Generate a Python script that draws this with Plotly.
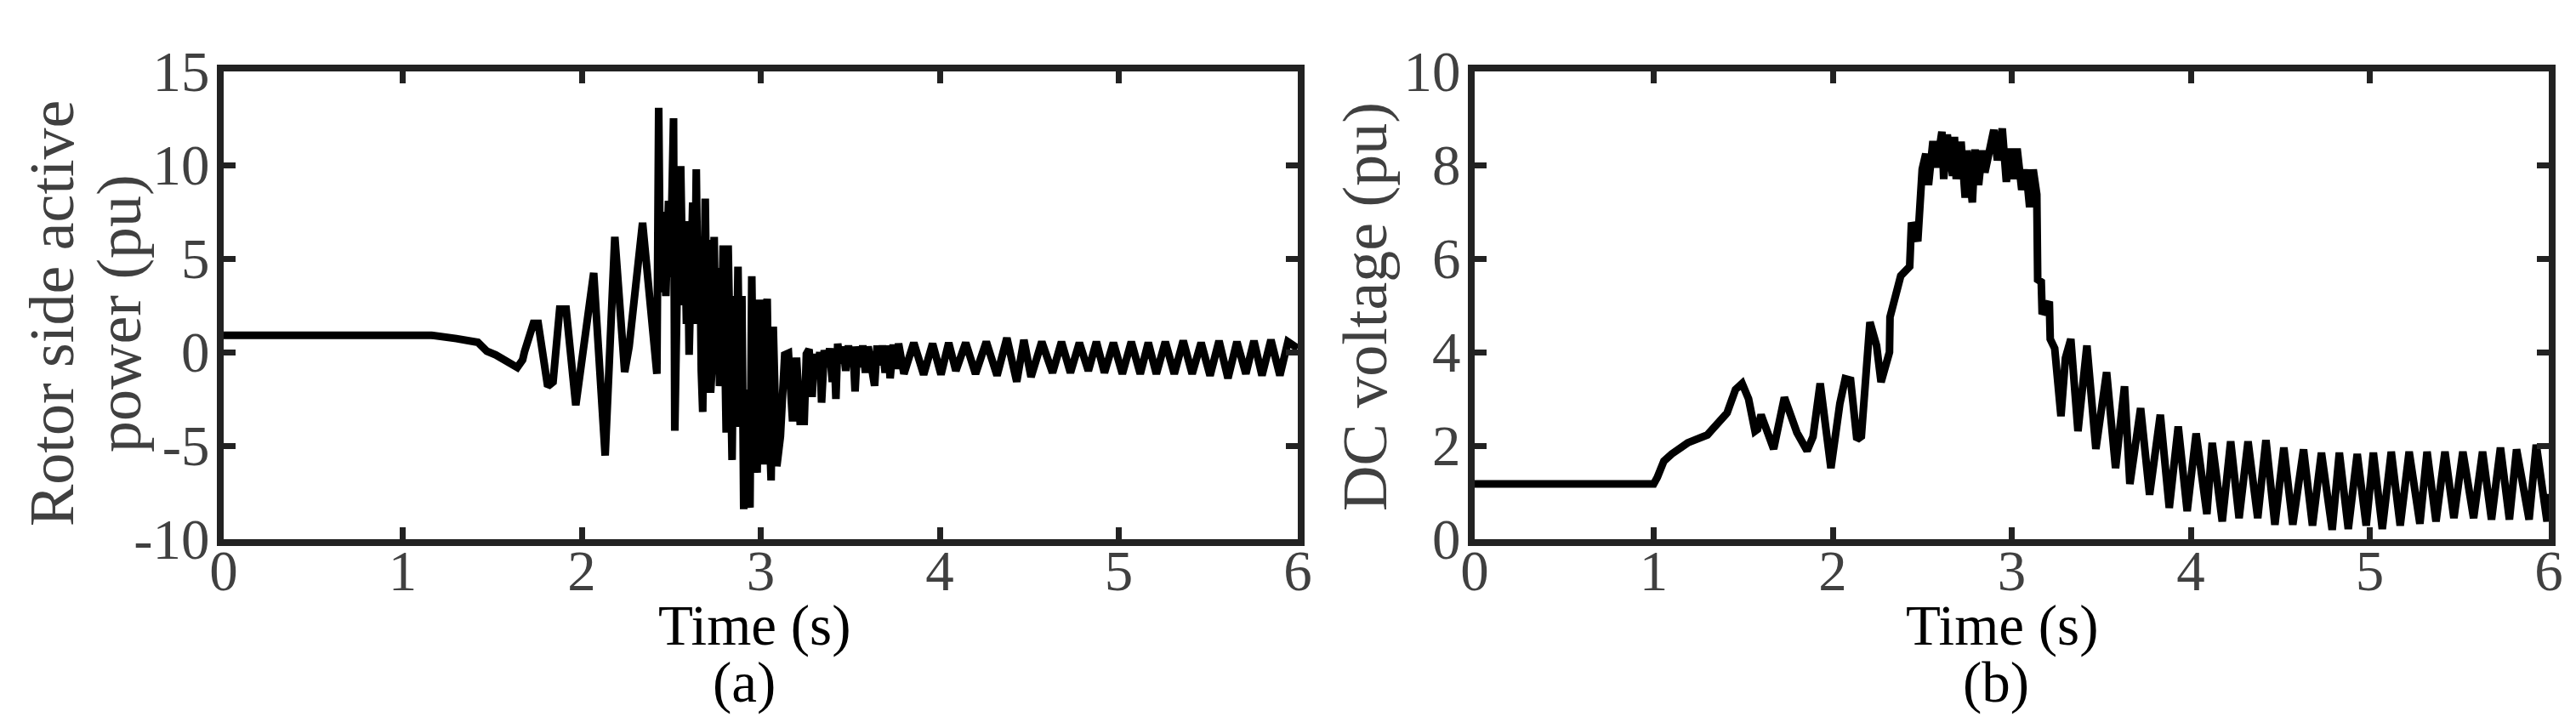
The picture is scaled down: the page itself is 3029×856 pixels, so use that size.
import plotly.graph_objects as go

# (a) rotor side active power, pu
t_rotor = [0.00, 1.16, 1.30, 1.42, 1.47, 1.52, 1.64, 1.67, 1.68, 1.73, 1.757, 1.81, 1.84, 1.877,
           1.913, 1.967, 2.067, 2.131, 2.185, 2.24, 2.265, 2.34, 2.42, 2.43, 2.44, 2.45, 2.455,
           2.46, 2.47, 2.478, 2.485, 2.495, 2.505, 2.513, 2.52, 2.53, 2.54, 2.545, 2.553, 2.565,
           2.575, 2.585, 2.592, 2.60, 2.61, 2.62, 2.63, 2.64, 2.65, 2.66, 2.668, 2.676, 2.69,
           2.70, 2.71, 2.72, 2.73, 2.74, 2.75, 2.76, 2.77, 2.78, 2.79, 2.807, 2.818, 2.84, 2.85,
           2.862, 2.873, 2.885, 2.895, 2.905, 2.915, 2.925, 2.94, 2.95, 2.96, 2.97, 2.98, 2.993,
           3.002, 3.014, 3.025, 3.036, 3.046, 3.058, 3.07, 3.08, 3.09, 3.11, 3.12, 3.134, 3.155,
           3.178, 3.20, 3.22, 3.243, 3.255, 3.27, 3.287, 3.30, 3.315, 3.33, 3.34, 3.355, 3.37,
           3.385, 3.40, 3.41, 3.42, 3.43, 3.445, 3.46, 3.475, 3.49, 3.505, 3.515, 3.527, 3.54,
           3.555, 3.57, 3.585, 3.60, 3.615, 3.636, 3.65, 3.665, 3.68, 3.695, 3.71, 3.723, 3.74,
           3.755, 3.77, 3.80, 3.855, 3.91, 3.96, 4.007, 4.05, 4.09, 4.145, 4.20, 4.26, 4.32,
           4.375, 4.43, 4.47, 4.51, 4.57, 4.63, 4.68, 4.73, 4.78, 4.83, 4.875, 4.92, 4.97, 5.02,
           5.07, 5.12, 5.165, 5.21, 5.26, 5.31, 5.36, 5.41, 5.46, 5.51, 5.56, 5.61, 5.66, 5.71,
           5.755, 5.80, 5.85, 5.90, 5.945, 6.00]
p_rotor = [0.90, 0.90, 0.72, 0.52, 0.05, -0.15, -0.82, -0.41, 0.00, 1.53, 1.53, -1.83, -1.60, 2.29,
           2.29, -2.84, 4.23, -5.53, 6.16, -1.07, 0.30, 6.91, -1.16, 13.05, 3.20, 7.50, 3.50,
           5.50, 3.00, 7.00, 8.09, 4.00, 9.00, 12.50, -4.20, 3.00, 7.00, 2.50, 9.94, 3.00,
           7.00, 1.50, 6.00, -0.14, 3.50, 8.00, 1.50, 9.77, 2.00, 6.00, -1.00, -3.20, 8.20,
           0.50, 6.00, -2.17, -0.50, 6.16, -1.00, 4.50, -1.82, 0.00, 5.70, -4.30, 5.70, -5.77, 3.00,
           -3.50, 4.56, -4.00, 3.00, -8.40, -2.00, -7.50, -8.30, 4.05, -3.00, 1.50, -6.45, 2.80,
           -3.00, -6.00, 1.50, 2.85, -3.50, -6.86, 1.36, -3.00, -6.10, -4.50, -2.00, -0.15, -0.06,
           -3.70, -0.30, -3.70, -3.70, -0.10, 0.15, -2.40, -0.10, -1.20, 0.00, -2.70, 0.10, -0.80,
           0.20, -1.60, 0.20, -2.50, 0.45, -0.60, 0.30, -1.00, 0.35, -0.70, 0.30, -2.10, 0.30,
           -0.80, 0.35, -1.10, 0.30, -0.90, -1.80, 0.35, -0.70, 0.35, -1.10, 0.35, -1.40, 0.40,
           -0.90, 0.45, -1.16, 0.50, -1.20, 0.45, -1.20, 0.50, -1.00, 0.50, -1.16, 0.55, -1.25,
           0.75, -1.58, 0.65, -1.33, 0.55, -1.10, 0.55, -1.10, 0.50, -1.00, 0.55, -1.10, 0.50, -1.16,
           0.55, -1.16, 0.50, -1.16, 0.55, -1.16, 0.60, -1.16, 0.50, -1.25, 0.60, -1.40, 0.55, -1.16,
           0.60, -1.25, 0.65, -1.25, 0.55, 0.20]

# (b) DC voltage, pu
t_dc = [0.00, 1.00, 1.02, 1.057, 1.10, 1.142, 1.19, 1.30, 1.36, 1.41, 1.457, 1.494, 1.53, 1.566,
        1.58, 1.60, 1.62, 1.64, 1.67, 1.73, 1.80, 1.857, 1.89, 1.93, 1.99, 2.04, 2.07, 2.10,
        2.135, 2.16, 2.208, 2.245, 2.27, 2.317, 2.32, 2.38, 2.43, 2.44, 2.475, 2.50, 2.52,
        2.535, 2.56, 2.58, 2.61, 2.62, 2.64, 2.67, 2.68, 2.69, 2.717, 2.74, 2.75, 2.78, 2.795,
        2.815, 2.835, 2.85, 2.875, 2.90, 2.92, 2.947, 2.97, 2.99, 3.01, 3.03, 3.056, 3.08, 3.10,
        3.12, 3.14, 3.145, 3.165, 3.17, 3.21, 3.215, 3.24, 3.275, 3.30, 3.33, 3.37, 3.42, 3.47,
        3.53, 3.58, 3.63, 3.66, 3.72, 3.77, 3.83, 3.88, 3.93, 3.98, 4.03, 4.09, 4.12, 4.176,
        4.223, 4.27, 4.32, 4.374, 4.42, 4.47, 4.52, 4.57, 4.63, 4.68, 4.73, 4.79, 4.83, 4.88,
        4.93, 4.98, 5.02, 5.07, 5.12, 5.17, 5.22, 5.28, 5.32, 5.37, 5.42, 5.47, 5.52, 5.58, 5.63,
        5.68, 5.73, 5.78, 5.82, 5.89, 5.93, 5.99, 6.00]
v_dc = [1.18, 1.18, 1.32, 1.67, 1.82, 1.93, 2.06, 2.23, 2.47, 2.70, 3.20, 3.33, 3.00, 2.31,
        2.35, 2.66, 2.45, 2.26, 1.93, 3.03, 2.28, 1.89, 2.19, 3.33, 1.52, 2.90, 3.43, 3.40,
        2.13, 2.20, 4.64, 4.14, 3.36, 4.00, 4.75, 5.63, 5.83, 6.77, 6.37, 7.91, 8.24,
        7.57, 8.51, 7.95, 8.71, 7.70, 8.65, 7.77, 8.60, 7.70, 8.50, 7.30, 8.31, 7.20, 8.33,
        7.57, 8.31, 7.84, 8.35, 8.75, 8.10, 8.78, 7.64, 8.35, 7.70, 8.35, 7.47, 7.90, 7.10,
        7.90, 7.37, 5.55, 5.50, 4.81, 5.08, 4.28, 4.08, 2.63, 3.87, 4.28, 2.31, 4.14, 1.93,
        3.57, 1.52, 3.27, 1.18, 2.80, 0.95, 2.66, 0.67, 2.41, 0.60, 2.26, 0.54, 2.06, 0.38,
        2.09, 0.45, 2.09, 0.45, 2.12, 0.31, 1.96, 0.31, 1.92, 0.29, 1.85, 0.20, 1.85, 0.22,
        1.82, 0.29, 1.85, 0.22, 1.87, 0.29, 1.87, 0.33, 1.87, 0.38, 1.87, 0.45, 1.87, 0.45, 1.87,
        0.42, 1.96, 0.42, 1.92, 0.42, 2.02, 0.38, 0.97]

time_ticks = [0, 1, 2, 3, 4, 5, 6]
rotor_ticks = [-10, -5, 0, 5, 10, 15]
dc_ticks = [0, 2, 4, 6, 8, 10]

W, H = 3029, 856
SERIF = 'Liberation Serif, Times New Roman, serif'
GREY = '#404040'
AXC = '#222222'


def px(x):
    return x / W


def py(y):
    return 1 - y / H


fig = go.Figure()
fig.add_trace(go.Scatter(x=t_rotor, y=p_rotor, mode='lines', xaxis='x', yaxis='y',
                         line=dict(color='black', width=9), showlegend=False))
fig.add_trace(go.Scatter(x=t_dc, y=v_dc, mode='lines', xaxis='x2', yaxis='y2',
                         line=dict(color='black', width=9), showlegend=False))

axis_common = dict(showline=True, linewidth=8, linecolor=AXC, mirror='ticks',
                   ticks='inside', ticklen=14, tickwidth=7, tickcolor=AXC,
                   showgrid=False, zeroline=False, automargin=False,
                   tickfont=dict(family=SERIF, size=67, color=GREY))
xaxis_common = dict(range=[0, 6], tickvals=time_ticks, ticklabelstandoff=-28, **axis_common)
yaxis_common = dict(ticklabelstandoff=-5, **axis_common)

fig.update_layout(
    template='none',
    width=W, height=H,
    margin=dict(l=0, r=0, t=0, b=0),
    paper_bgcolor='white', plot_bgcolor='white',
    xaxis=dict(domain=[px(255), px(1518)], anchor='y', **xaxis_common),
    yaxis=dict(domain=[py(626), py(76)], anchor='x', range=[-10, 15],
               tickvals=rotor_ticks, ticktext=[str(v) for v in rotor_ticks], **yaxis_common),
    xaxis2=dict(domain=[px(1726), px(2989)], anchor='y2', **xaxis_common),
    yaxis2=dict(domain=[py(626), py(76)], anchor='x2', range=[0, 10],
                tickvals=dc_ticks, **yaxis_common),
)

ann = [
    dict(x=px(879), y=py(727), text='Time (s)', font=dict(family=SERIF, size=67, color='black')),
    dict(x=px(867), y=py(794), text='(a)', font=dict(family=SERIF, size=67, color='black')),
    dict(x=px(2346), y=py(727), text='Time (s)', font=dict(family=SERIF, size=67, color='black')),
    dict(x=px(2339), y=py(794), text='(b)', font=dict(family=SERIF, size=67, color='black')),
    dict(x=px(53), y=py(361), text='Rotor side active', textangle=-90,
         font=dict(family=SERIF, size=74, color=GREY)),
    dict(x=px(132), y=py(361), text='power (pu)', textangle=-90,
         font=dict(family=SERIF, size=74, color=GREY)),
    dict(x=px(1597), y=py(353), text='DC voltage (pu)', textangle=-90,
         font=dict(family=SERIF, size=74, color=GREY)),
]
for a in ann:
    fig.add_annotation(xref='paper', yref='paper', showarrow=False,
                       xanchor='center', yanchor='middle', **a)

fig.write_html('out.html')
